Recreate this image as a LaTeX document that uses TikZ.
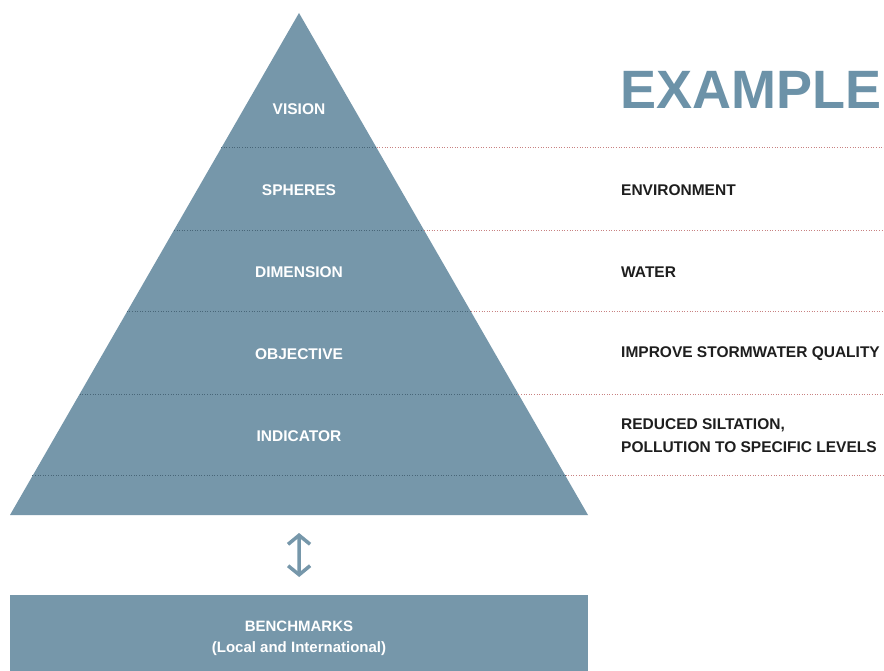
\documentclass[tikz,border=0pt]{standalone}
\usepackage{fontspec}
\setmainfont{Liberation Sans}
\usetikzlibrary{arrows.meta,calc}
\definecolor{steel}{RGB}{118,151,170}
\definecolor{steeltext}{RGB}{108,146,168}
\definecolor{darktext}{RGB}{30,30,30}
\definecolor{innerdot}{RGB}{72,102,120}
\definecolor{outerdot}{RGB}{200,130,130}
\tikzset{
  lvl/.style={text=white, font=\bfseries\fontsize{15.5}{18}\selectfont, anchor=center, inner sep=0pt},
  ex/.style={text=darktext, font=\bfseries\fontsize{15.5}{23}\selectfont, anchor=west, inner sep=0pt, align=left},
  indot/.style={innerdot, line width=1pt, dash pattern=on 1pt off 1.6pt},
  outdot/.style={outerdot, line width=1pt, dash pattern=on 1pt off 1.6pt},
  dbl/.style={steel, line width=3.5pt, {Straight Barb[length=9pt,width=22pt]}-{Straight Barb[length=9pt,width=22pt]}}
}
\begin{document}
\begin{tikzpicture}[x=1pt,y=-1pt]
\useasboundingbox (0,0) rectangle (884,671);
\fill[white] (0,0) rectangle (884,671);
% triangle
\coordinate (A) at (299,13);
\coordinate (B) at (10,515);
\coordinate (C) at (588,515);
\coordinate (basemid) at (299,515);
\fill[steel] (A) -- (B) -- (C) -- cycle;
% dotted separators
\foreach \t/\n in {0.2689/1,0.4323/2,0.5956/3,0.759/4,0.9223/5}{
  \coordinate (L\n) at ($(A)!\t!(B)$);
  \coordinate (R\n) at ($(A)!\t!(C)$);
  \coordinate (E\n) at (884,0 |- L\n);
  \draw[indot] (L\n) -- (R\n);
  \draw[outdot] (R\n) -- (E\n);
}
% level labels
\node[lvl] (vision) at (299,109) {VISION};
\node[lvl] (spheres) at (299,190) {SPHERES};
\node[lvl] (dimension) at (299,272) {DIMENSION};
\node[lvl] (objective) at (299,354) {OBJECTIVE};
\node[lvl] (indicator) at (299,436) {INDICATOR};
% title
\node[text=steeltext, font=\bfseries\fontsize{54}{58}\selectfont, anchor=west, inner sep=0pt] (title) at (620,90) {EXAMPLE};
% example texts
\node[ex] (env) at (621,190) {ENVIRONMENT};
\node[ex] (water) at (621,272) {WATER};
\node[ex] (improve) at (621,354) {IMPROVE STORMWATER QUALITY};
\node[ex] (reduced) at (621,436) {REDUCED SILTATION,\\POLLUTION TO SPECIFIC LEVELS};
% benchmarks
\node[fill=steel, minimum width=578pt, minimum height=76pt, anchor=north west, inner sep=0pt] (bench) at (10,595) {};
\node[text=white, font=\bfseries\fontsize{15}{21}\selectfont, align=center, inner sep=0pt] (benchtext) at (299,638) {BENCHMARKS\\(Local and International)};
% arrow
\draw[dbl, shorten <=18pt, shorten >=18pt] (basemid) -- (bench.north);
\end{tikzpicture}
\end{document}
